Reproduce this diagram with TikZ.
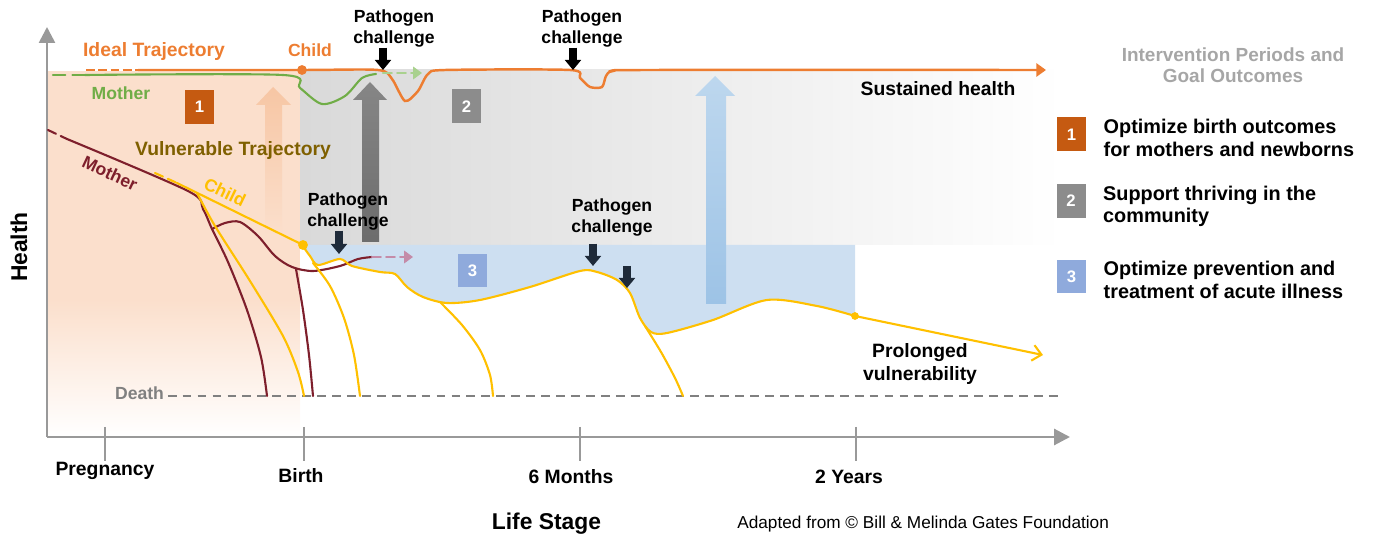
\documentclass[tikz,border=0pt]{standalone}
\usepackage{fontspec}
\setmainfont{Liberation Sans}
\usetikzlibrary{positioning,arrows.meta}
\definecolor{ideal}{HTML}{ED7D31}
\definecolor{mumgreen}{HTML}{70AD47}
\definecolor{mumgreenlt}{HTML}{A9D18E}
\definecolor{mumred}{HTML}{7E1F2C}
\definecolor{mumpink}{HTML}{C48BA8}
\definecolor{kid}{HTML}{FFC000}
\definecolor{vuln}{HTML}{7F6000}
\definecolor{peachbg}{HTML}{FBDFCC}
\definecolor{peacharrow}{HTML}{F7C6A4}
\definecolor{greybg}{HTML}{D9D9D9}
\definecolor{bluebg}{HTML}{CDDFF1}
\definecolor{bluearrow}{HTML}{9DC3E6}
\definecolor{bluearrowlt}{HTML}{BDD7EE}
\definecolor{boxone}{HTML}{C55A11}
\definecolor{boxtwo}{HTML}{8C8C8C}
\definecolor{boxthree}{HTML}{8FAADC}
\definecolor{axisgrey}{HTML}{999999}
\definecolor{deathgrey}{HTML}{808080}
\definecolor{navy}{HTML}{1F2B3A}
\definecolor{titlegrey}{HTML}{A6A6A6}

\begin{document}
\begin{tikzpicture}[x=0.02cm,y=-0.02cm,
    every node/.style={inner sep=0pt,font=\bfseries\fontsize{10}{12.2}\selectfont},
    biglbl/.style={font=\bfseries\fontsize{11}{13}\selectfont},
    legtxt/.style={font=\bfseries\fontsize{11.3}{12.8}\selectfont,align=left},
    trj/.style={line width=1.2pt,line cap=round},
    pathogen/.style={line width=4.5pt,-{Triangle[width=9pt,length=5.7pt]}},
    numbox/.style={fill=#1,text=white,minimum width=0.58cm,minimum height=0.68cm,font=\bfseries\fontsize{9.5}{11}\selectfont}]
  \useasboundingbox (0,0) rectangle (1373,540);

  % intervention periods
  \fill[peachbg] (48,71) rectangle (300,300);
  \shade[top color=peachbg,bottom color=white] (48,299.5) rectangle (300,437);
  \shade[left color=greybg,right color=white] (300,70) rectangle (1063,245);
  \fill[bluebg] (855,245) -- (302,245) -- plot[smooth,tension=0.5] coordinates {(302,245) (310,256) (318,265) (340,259) (352,266) (380,272) (395,274) (407,287) (423,297) (447,303) (480,300) (530,287) (580,271) (597,272) (617,280) (630,293) (640,318) (651,332) (667,333) (713,320) (767,300) (817,306) (855,316)} -- cycle;

  % big arrows
  \shade[top color=peacharrow,middle color=peacharrow,bottom color=peachbg] (265,235) -- (265,105) -- (256,105) -- (273,87) -- (291,105) -- (282,105) -- (282,235) -- cycle;
  \shade[top color=gray!95,middle color=gray!12,bottom color=gray!115] (362,242) -- (362,100) -- (353,100) -- (370,82) -- (387,100) -- (379,100) -- (379,242) -- cycle;
  \shade[top color=bluearrowlt,middle color=bluearrowlt!25,bottom color=bluearrow] (706,304) -- (706,96) -- (695,96) -- (715,76) -- (735,96) -- (726,96) -- (726,304) -- cycle;

  \node[numbox=boxone] (b1) at (199.5,107) {1};
  \node[numbox=boxtwo] (b2) at (466.5,106.5) {2};
  \node[numbox=boxthree] (b3) at (472.5,270.5) {3};

  % axes
  \coordinate (O) at (47,437);
  \coordinate (ytop) at (47,27);
  \coordinate (xend) at (1070,437);
  \draw[axisgrey,line width=1.5pt,-{Triangle[width=9pt,length=9pt]}] (O) -- (ytop);
  \draw[axisgrey,line width=1.7pt,-{Triangle[width=9pt,length=9pt]}] (O) -- (xend);
  \foreach \x/\lx/\ly/\lab in {105/105/476/Pregnancy,304/301/482/Birth,580/571/483/6 Months,856/849/483/2 Years}{
    \draw[axisgrey,line width=1.1pt] (\x,427) -- (\x,461);
    \node[biglbl,anchor=base] (tick\x) at (\lx,\ly) {\lab};
  }
  \node[font=\bfseries\fontsize{13}{15}\selectfont,rotate=90] (health) at (19,247) {Health};
  \node[font=\bfseries\fontsize{13}{15}\selectfont,anchor=base] (lifestage) at (546.5,529) {Life Stage};
  \node[font=\fontsize{9.8}{12}\selectfont,anchor=base west] (credit) at (737,528) {Adapted from © Bill \& Melinda Gates Foundation};

  % death line
  \node[anchor=base,text=deathgrey] (death) at (139.5,400) {Death};
  \coordinate (deathend) at (1063,396);
  \draw[deathgrey,line width=1.3pt,dash pattern=on 5pt off 3.5pt] ([xshift=2pt]death.east |- deathend) -- (deathend);

  % ideal trajectory
  \draw[ideal,line width=1.4pt,dash pattern=on 5pt off 2pt] (86,70) -- (138,70);
  \draw[ideal,line width=1.4pt,-{Triangle[width=7.5pt,length=5.5pt]}] plot[smooth,tension=0.45] coordinates {(138,70) (302,70) (378,70) (392,79) (405,101) (418,91) (428,74) (445,70) (570,70) (580,78) (590,87) (602,87) (606,76) (613,71) (650,70) (1046,70)};
  \fill[ideal] (302,70) circle[radius=2.8pt];
  \draw[mumgreen,trj,dash pattern=on 7pt off 4pt] (53,75) -- (85,75);
  \draw[mumgreen,trj] plot[smooth,tension=0.5] coordinates {(85,75) (283,75) (300,88) (322,104) (345,96) (362,78) (376,74)};
  \draw[mumgreenlt,trj,dash pattern=on 5pt off 3pt,-{Triangle[width=7pt,length=5pt]}] (383,73) -- (422,73);

  % vulnerable trajectory, mother
  \draw[mumred,trj,dash pattern=on 5pt off 3pt] (48,130) -- (67,139);
  \draw[mumred,trj] plot[smooth,tension=0.5] coordinates {(67,139) (188,191) (203,209) (212,229) (228,262) (247,310) (261,357) (267,396)};
  \draw[mumred,trj] plot[smooth,tension=0.5] coordinates {(212,229) (225,223) (240,222) (258,236) (275,256) (292,267) (313,271) (340,266) (358,259) (372,257)};
  \draw[mumpink,trj,dash pattern=on 5pt off 3pt,-{Triangle[width=7pt,length=5pt]}] (372,257) -- (413,257);
  \draw[mumred,trj] plot[smooth,tension=0.5] coordinates {(296,269) (303,310) (309,355) (313,396)};

  % vulnerable trajectory, child
  \draw[kid,trj,dash pattern=on 5pt off 3pt] (155,173) -- (177,183);
  \draw[kid,trj] (177,183) -- (303,245);
  \draw[kid,trj] plot[smooth,tension=0.5] coordinates {(197,193) (215,226) (250,281) (283,336) (298,372) (304,396)};
  \draw[kid,trj] plot[smooth,tension=0.5] coordinates {(302,245) (310,256) (318,265) (340,259) (352,266) (380,272) (395,274) (407,287) (423,297) (447,303) (480,300) (530,287) (580,271) (597,272) (617,280) (630,293) (640,318) (651,332) (667,333) (713,320) (767,300) (817,306) (855,316)};
  \draw[kid,trj,-{Straight Barb[width=9pt,length=5pt]}] (855,316) -- (1043,355);
  \draw[kid,trj] plot[smooth,tension=0.5] coordinates {(313,263) (330,286) (344,318) (354,355) (360,396)};
  \draw[kid,trj] plot[smooth,tension=0.5] coordinates {(440,302) (462,325) (480,350) (490,375) (493,396)};
  \draw[kid,trj] plot[smooth,tension=0.5] coordinates {(645,326) (661,352) (675,378) (683,396)};
  \fill[kid] (303,245) circle[radius=2.8pt];
  \fill[kid] (855,316) circle[radius=2.2pt];

  % curve labels
  \node[biglbl,anchor=base,text=ideal] (ideallbl) at (154,57) {Ideal Trajectory};
  \node[anchor=base,text=ideal] (childtop) at (310,57) {Child};
  \node[anchor=base,text=mumgreen] (mumtop) at (121,100) {Mother};
  \node[biglbl,anchor=base,text=vuln] (vulnlbl) at (233,156) {Vulnerable Trajectory};
  \node[rotate=-25,text=mumred] (mumlow) at (110,173) {Mother};
  \node[rotate=-26,text=kid] (childlow) at (225,192) {Child};
  \node[biglbl,anchor=base] (sustained) at (938,96) {Sustained health};
  \node[biglbl,anchor=north,align=center] (prolonged) at (920,343) {Prolonged\\vulnerability};

  % pathogen challenges
  \node[anchor=north,align=center] (pc1) at (394,9) {Pathogen\\challenge};
  \node[anchor=north,align=center] (pc2) at (582,9) {Pathogen\\challenge};
  \node[anchor=north,align=center] (pc3) at (348,192) {Pathogen\\challenge};
  \node[anchor=north,align=center] (pc4) at (612,198) {Pathogen\\challenge};
  \coordinate (hit1) at (383,70);
  \coordinate (hit2) at (573,70);
  \coordinate (hit3) at (339,254);
  \coordinate (hit4) at (593,266);
  \coordinate (hit5) at (627,288);
  \draw[pathogen] (pc1.south -| hit1) -- (hit1);
  \draw[pathogen] (pc2.south -| hit2) -- (hit2);
  \draw[pathogen,navy] (pc3.south -| hit3) -- (hit3);
  \draw[pathogen,navy] ([yshift=-4pt]pc4.south -| hit4) -- (hit4);
  \draw[pathogen,navy] (627,266) -- (hit5);

  % legend
  \node[anchor=north,align=center,text=titlegrey,font=\bfseries\fontsize{10.8}{12}\selectfont] (legtitle) at (1233,47) {Intervention Periods and\\Goal Outcomes};
  \node[numbox=boxone] (lb1) at (1071.5,134.5) {1};
  \node[numbox=boxtwo] (lb2) at (1071,201) {2};
  \node[numbox=boxthree] (lb3) at (1071.5,276.5) {3};
  \node[legtxt,anchor=north west] (lt1) at ([xshift=0.34cm,yshift=-1pt]lb1.north east) {Optimize birth outcomes\\for mothers and newborns};
  \node[legtxt,anchor=north west] (lt2) at ([xshift=0.34cm,yshift=-1pt]lb2.north east) {Support thriving in the\\community};
  \node[legtxt,anchor=north west] (lt3) at ([xshift=0.34cm,yshift=-1pt]lb3.north east) {Optimize prevention and\\treatment of acute illness};
\end{tikzpicture}
\end{document}
